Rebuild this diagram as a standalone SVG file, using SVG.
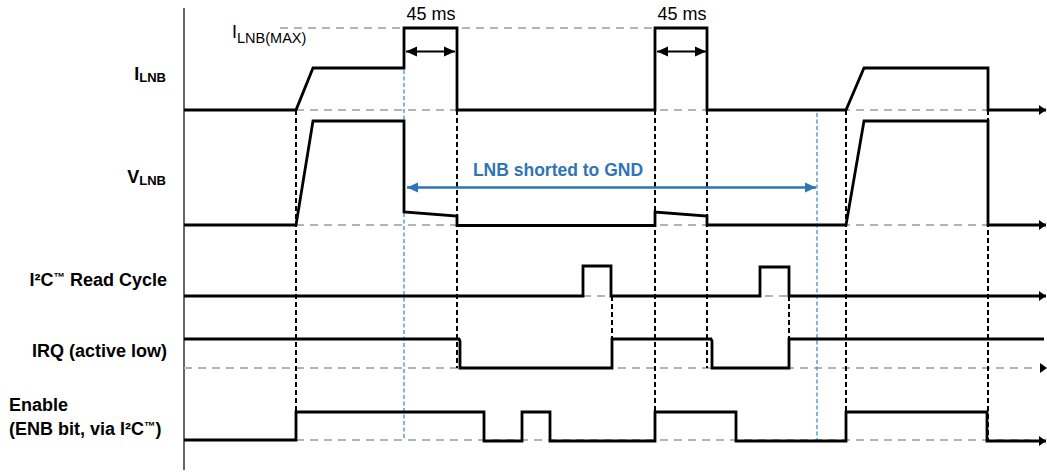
<svg xmlns="http://www.w3.org/2000/svg" width="1047" height="476" viewBox="0 0 1047 476">
<style>
.sig{fill:none;stroke:#000;stroke-width:2.8;stroke-linejoin:miter}
.gd{fill:none;stroke:#b3b3b3;stroke-width:2;stroke-dasharray:8 6}
.bd{fill:none;stroke:#000;stroke-width:2;stroke-dasharray:5 3}
.bl{fill:none;stroke:#3f8fd2;stroke-width:1.3;stroke-dasharray:4 2.5}
.lbl{font-family:"Liberation Sans",Arial,sans-serif;font-weight:bold;font-size:18px;fill:#000}
.reg{font-family:"Liberation Sans",Arial,sans-serif;font-size:18px;fill:#000}
.blue{font-family:"Liberation Sans",Arial,sans-serif;font-weight:bold;font-size:17.5px;fill:#2e75b6}
</style>
<defs>
<marker id="endArrow" markerUnits="userSpaceOnUse" markerWidth="8" markerHeight="11" refX="7" refY="5.5" orient="auto">
<path d="M0,0.5 L7,5.5 L0,10.5 z" fill="#000"/>
</marker>
<marker id="blkHead" markerUnits="userSpaceOnUse" markerWidth="12" markerHeight="11" refX="11" refY="5.5" orient="auto-start-reverse">
<path d="M0,0.5 L11,5.5 L0,10.5 z" fill="#000"/>
</marker>
<marker id="blueHead" markerUnits="userSpaceOnUse" markerWidth="12" markerHeight="11" refX="11" refY="5.5" orient="auto-start-reverse">
<path d="M0,0.5 L11,5.5 L0,10.5 z" fill="#2e75b6"/>
</marker>
</defs>

<g id="axis">
<line x1="184" y1="8" x2="184" y2="470" stroke="#333" stroke-width="1.5"/>
</g>

<g id="guides">
<line class="gd" x1="280" y1="28" x2="655" y2="28"/>
<line class="gd" x1="296" y1="110" x2="988" y2="110"/>
<line class="gd" x1="296" y1="225" x2="988" y2="225"/>
<line class="gd" x1="583" y1="296" x2="789" y2="296"/>
<line class="gd" x1="184" y1="368" x2="1036" y2="368"/>
<line class="gd" x1="296" y1="440" x2="1030" y2="440"/>
<path d="M1040,363 L1047,368 L1040,373 z" fill="#000"/>
</g>

<g id="connectors">
<line class="bd" x1="296" y1="110" x2="296" y2="440"/>
<line class="bd" x1="457" y1="110" x2="457" y2="368"/>
<line class="bd" x1="655" y1="110" x2="655" y2="412"/>
<line class="bd" x1="707" y1="110" x2="707" y2="368"/>
<line class="bd" x1="846" y1="110" x2="846" y2="412"/>
<line class="bd" x1="988" y1="110" x2="988" y2="440"/>
<line class="bd" x1="612" y1="296" x2="612" y2="339"/>
<line class="bd" x1="789" y1="296" x2="789" y2="339"/>
<line class="bl" x1="404" y1="70" x2="404" y2="440"/>
<line class="bl" x1="817" y1="113" x2="817" y2="440"/>
<line x1="406" y1="51.5" x2="455" y2="51.5" stroke="#000" stroke-width="2.2" marker-start="url(#blkHead)" marker-end="url(#blkHead)"/>
<line x1="657" y1="51.5" x2="706" y2="51.5" stroke="#000" stroke-width="2.2" marker-start="url(#blkHead)" marker-end="url(#blkHead)"/>
<line x1="407" y1="187.5" x2="816" y2="187.5" stroke="#2e75b6" stroke-width="2.5" marker-start="url(#blueHead)" marker-end="url(#blueHead)"/>
</g>

<g id="sig-ilnb">
<path class="sig" d="M184,110 L296,110 L313,68 L404,68 L404,28 L457,28 L457,110 L655,110 L655,28 L707,28 L707,110 L846,110 L864,68 L988,68 L988,110 L1046,110" marker-end="url(#endArrow)"/>
</g>
<g id="sig-vlnb">
<path class="sig" d="M184,225 L296,225 L313,121 L404,121 L404,212 L457,216 L457,225.5 L655,225.5 L655,212 L707,216 L707,225 L846,225 L864,121 L988,121 L988,225 L1046,225" marker-end="url(#endArrow)"/>
</g>
<g id="sig-i2c">
<path class="sig" d="M184,296 L583,296 L583,266 L611,266 L611,296 L760,296 L760,267 L789,267 L789,296 L1046,296" marker-end="url(#endArrow)"/>
</g>
<g id="sig-irq">
<path class="sig" d="M184,339 L459,339 L460,341 L460,368 L612,368 L612,339 L711,339 L712,341 L712,368 L789,368 L789,339 L1044,339"/>
</g>
<g id="sig-enable">
<path class="sig" d="M184,440 L296,440 L296,412 L484,412 L484,441 L522,441 L522,412 L550,412 L550,441 L655,441 L655,412 L736,412 L736,441 L846,441 L846,412 L987,412 L987,441 L1046,441" marker-end="url(#endArrow)"/>
</g>

<g id="labels">
<text class="lbl" x="166" y="80" text-anchor="end">I<tspan font-size="13" dy="2">LNB</tspan></text>
<text class="lbl" x="166" y="183" text-anchor="end">V<tspan font-size="13" dy="2">LNB</tspan></text>
<text class="lbl" x="167" y="286" text-anchor="end">I²C<tspan font-size="11.5" dy="-5">™</tspan><tspan dy="5"> Read Cycle</tspan></text>
<text class="lbl" x="167" y="357" text-anchor="end">IRQ (active low)</text>
<text class="lbl" x="9" y="411">Enable</text>
<text class="lbl" x="9" y="435">(ENB bit, via I²C<tspan font-size="11.5" dy="-5">™</tspan><tspan dy="5">)</tspan></text>
</g>

<g id="annotations">
<text class="reg" x="232" y="38">I<tspan font-size="14.5" dy="5">LNB(MAX)</tspan></text>
<text class="reg" x="431" y="20" text-anchor="middle" font-size="19">45 ms</text>
<text class="reg" x="682" y="20" text-anchor="middle" font-size="19">45 ms</text>
<text class="blue" x="558" y="176" text-anchor="middle">LNB shorted to GND</text>
</g>
</svg>
